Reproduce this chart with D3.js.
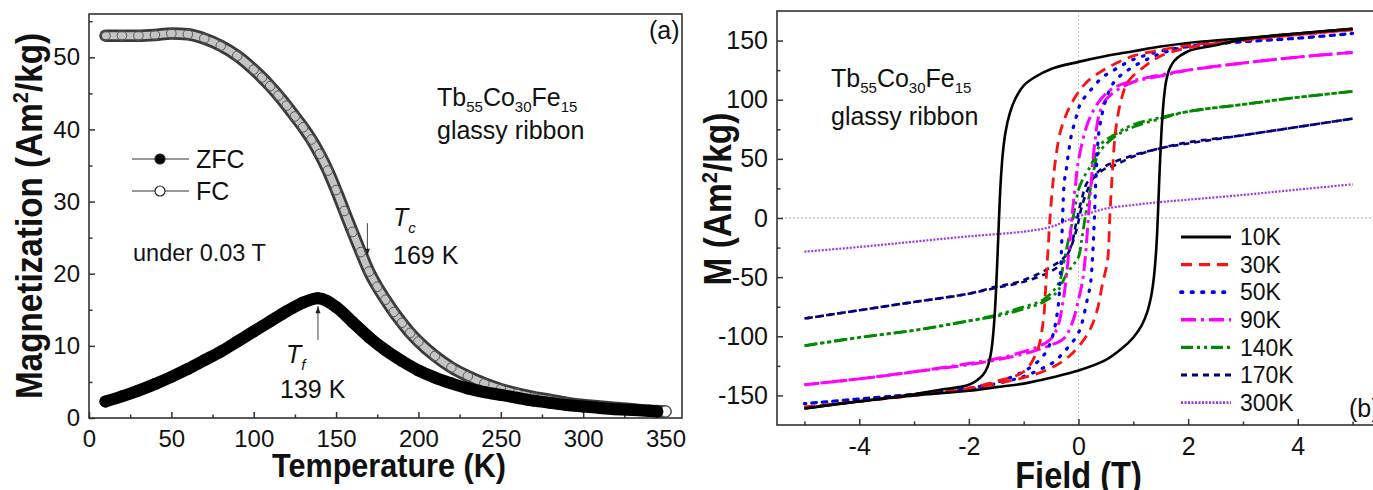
<!DOCTYPE html>
<html>
<head>
<meta charset="utf-8">
<script src="https://cdn.jsdelivr.net/npm/d3@7"></script>
<style>
  body { margin: 0; background: #fff; }
  svg { display: block; font-family: "Liberation Sans", Arial, sans-serif; }
</style>
</head>
<body>
<svg id="fig" width="1373" height="490"></svg>
<script>
// ---------- data: panel (a) ----------
const tempFC = [10,20,30,40,50,60,70,80,90,100,105,110,115,120,125,130,135,140,145,150,155,160,165,170,175,180,185,190,195,200,210,220,230,240,250,260,270,280,290,300,310,320,330,340,350];
const magFC  = [53.0,53.0,53.0,53.1,53.3,53.2,52.6,51.6,50.2,48.3,47.2,46.0,44.7,43.3,41.8,40.3,38.6,36.6,34.3,31.6,28.7,25.8,23.0,20.3,18.2,16.4,14.7,13.2,11.8,10.6,8.6,7.0,5.8,4.8,4.0,3.4,2.9,2.5,2.1,1.8,1.6,1.4,1.2,1.0,0.9];

const tempZFC = [10,20,30,40,50,60,70,80,90,100,110,120,130,139,150,160,170,180,190,200,210,220,230,240,250,260,270,280,290,300,310,320,330,340,345];
const magZFC  = [2.3,3.0,3.8,4.7,5.7,6.8,8.0,9.2,10.6,12.0,13.4,14.8,16.0,16.6,15.4,13.3,11.2,9.4,7.9,6.6,5.6,4.8,4.1,3.6,3.2,2.8,2.4,2.1,1.8,1.6,1.4,1.2,1.1,1.0,0.9];

const tempTicks = [0,50,100,150,200,250,300,350];
const magTicks = [0,10,20,30,40,50];

// ---------- data: panel (b) ----------
const loopLabels = ["10K","30K","50K","90K","140K","170K","300K"];

const hDown10 = [5,4,3,2,1.5,1,0.5,0,-0.5,-0.8,-1,-1.15,-1.25,-1.33,-1.38,-1.42,-1.45,-1.48,-1.52,-1.56,-1.6,-1.66,-1.75,-2,-2.5,-3,-4,-5];
const mDown10 = [160,156,152,148,145,141,137,132,126,119,112,101,89,73,55,30,0,-35,-75,-100,-115,-126,-133,-141,-145,-149,-155,-161];
const hUp10   = [-5,-4,-3,-2,-1.5,-1,-0.5,0,0.5,0.8,1,1.15,1.25,1.33,1.38,1.42,1.45,1.48,1.52,1.56,1.6,1.66,1.75,2,2.5,3,4,5];
const mUp10   = [-161,-155,-150,-146,-143,-140,-135,-129,-120,-110,-101,-91,-80,-65,-48,-25,4,40,78,102,116,126,133,141,146,151,156,160];

const hDown30 = [5,4,3,2,1.5,1,0.53,0.13,-0.16,-0.33,-0.42,-0.47,-0.52,-0.56,-0.6,-0.64,-0.75,-1,-1.5,-2,-3,-4,-5];
const mDown30 = [159,155,151,146,142,137,127,114,94,73,49,28,0,-30,-60,-86,-112,-130,-138,-144,-150,-155,-160];
const hUp30   = [-5,-4,-3,-2,-1.5,-1,-0.51,-0.15,0.18,0.34,0.44,0.53,0.57,0.62,0.68,0.78,0.9,1.2,1.5,2,3,4,5];
const mUp30   = [-160,-155,-150,-145,-140,-135,-127,-116,-97,-78,-55,-36,0,40,75,100,115,128,137,144,150,155,159];

const hDown50 = [5,4,3,2,1.5,1,0.68,0.44,0.22,0.04,-0.05,-0.13,-0.18,-0.22,-0.26,-0.29,-0.33,-0.38,-0.5,-0.65,-0.9,-1.2,-1.5,-2,-3,-4,-5];
const mDown50 = [156,152,149,145,141,134,126,119,108,97,84,70,56,42,30,0,-48,-78,-104,-117,-127,-134,-139,-144,-149,-153,-157];
const hUp50   = [-5,-4,-3,-2,-1.5,-1,-0.7,-0.46,-0.24,0,0.16,0.22,0.26,0.29,0.33,0.38,0.5,0.65,0.9,1.2,1.5,2,3,4,5];
const mUp50   = [-157,-153,-149,-144,-140,-134,-128,-122,-112,-97,-69,-55,-30,0,45,75,100,115,125,133,139,145,149,152,156];

const hDown90 = [5,4,3,2,1.5,1,0.64,0.4,0.22,0.13,0.04,-0.02,-0.05,-0.1,-0.14,-0.2,-0.28,-0.38,-0.5,-0.7,-1,-1.5,-2,-3,-4,-5];
const mDown90 = [140,136,131,125,121,116,110,100,86,75,58,43,30,10,-10,-40,-70,-92,-102,-108,-113,-119,-123,-130,-136,-141];
const hUp90   = [-5,-4,-3,-2,-1.5,-1,-0.6,-0.27,-0.11,0,0.07,0.12,0.18,0.24,0.3,0.38,0.5,0.7,1,1.5,2,3,4,5];
const mUp90   = [-141,-136,-130,-124,-120,-115,-109,-102,-88,-69,-54,-35,0,35,65,88,100,108,115,120,125,131,136,140];

const hDown140 = [5,4,3,2,1.5,1,0.64,0.4,0.31,0.22,0.09,0,-0.06,-0.12,-0.2,-0.27,-0.36,-0.64,-1.06,-1.5,-2,-3,-4,-5];
const mDown140 = [107,102,96,90,85,79,70,62,53,44,34,24,10,-5,-22,-38,-55,-69,-76,-82,-87,-95,-101,-108];
const hUp140   = [-5,-4,-3,-2,-1.5,-1,-0.64,-0.4,-0.3,-0.2,-0.1,0,0.06,0.12,0.2,0.27,0.36,0.64,1,1.5,2,3,4,5];
const mUp140   = [-108,-101,-95,-87,-83,-77,-71,-63,-55,-46,-40,-33,-18,0,20,38,54,68,77,84,90,96,102,107];

const hDown170 = [5,4,3,2,1.5,1,0.68,0.46,0.31,0.16,0.05,0,-0.05,-0.2,-0.6,-1.1,-1.5,-2,-3,-4,-5];
const mDown170 = [84,77,70,63,59,52,45,41,35,30,14,5,-6,-30,-44,-54,-58,-64,-71,-78,-85];
const hUp170   = [-5,-4,-3,-2,-1.5,-1,-0.5,-0.3,-0.15,-0.05,0,0.05,0.15,0.3,0.5,1,1.5,2,3,4,5];
const mUp170   = [-85,-78,-71,-64,-59,-54,-45,-38,-26,-12,-3,8,22,36,44,53,59,64,70,77,84];

const h300 = [-5,-4,-3,-2,-1,-0.5,-0.1,0.2,0.5,1,1.5,2,3,4,5];
const m300 = [-28.5,-24.5,-20,-15.5,-11.5,-7.5,0,4,8,11,13.5,15.5,19.5,24,28.5];

const fieldTicks = [-4,-2,0,2,4];
const mTicks = [-150,-100,-50,0,50,100,150];

const svg = d3.select("#fig");
const axisColor = "#333";

// draw frame + inward ticks for one panel
function drawAxes(x, y, xMajor, xMinor, yMajor, yMinor, fs, xPad) {
  const [x0, x1] = x.range();
  const [yb, yt] = y.range();

  svg.append("rect")
    .attr("x", x0).attr("y", yt)
    .attr("width", x1 - x0).attr("height", yb - yt)
    .attr("fill", "none").attr("stroke", axisColor).attr("stroke-width", 1.6);

  const gx = svg.append("g").attr("transform", `translate(0,${yb})`);
  gx.call(d3.axisBottom(x).tickValues(xMajor).tickFormat(d => String(d))
    .tickSizeInner(-6).tickSizeOuter(0).tickPadding(xPad));
  gx.append("g").call(d3.axisBottom(x).tickValues(xMinor).tickSizeInner(-3.5).tickSizeOuter(0).tickFormat(""));

  const gy = svg.append("g").attr("transform", `translate(${x0},0)`);
  gy.call(d3.axisLeft(y).tickValues(yMajor).tickFormat(d => String(d))
    .tickSizeInner(-6).tickSizeOuter(0).tickPadding(9));
  gy.append("g").call(d3.axisLeft(y).tickValues(yMinor).tickSizeInner(-3.5).tickSizeOuter(0).tickFormat(""));

  [gx, gy].forEach(g => {
    g.selectAll(".domain").remove();
    g.selectAll("line").attr("stroke", axisColor).attr("stroke-width", 1.5);
    g.selectAll("text").attr("font-size", fs).attr("fill", "#111")
      .attr("font-family", "'Liberation Sans', Arial, sans-serif");
  });
}

// chemical formula with subscripts
function formula(x, y, fs) {
  const t = svg.append("text").attr("x", x).attr("y", y).attr("font-size", fs).attr("fill", "#111");
  const parts = [["Tb", "55"], ["Co", "30"], ["Fe", "15"]];
  parts.forEach((p, i) => {
    t.append("tspan").attr("dy", i === 0 ? 0 : -6).text(p[0]);
    t.append("tspan").attr("dy", 6).attr("font-size", fs * 0.6).text(p[1]);
  });
}

// bold, slightly condensed axis title
function title(x, y, rot, fs, sx, parts) {
  const t = svg.append("text")
    .attr("transform", `translate(${x},${y}) rotate(${rot}) scale(${sx},1)`)
    .attr("text-anchor", "middle").attr("font-size", fs).attr("font-weight", "bold").attr("fill", "#111");
  t.append("tspan").text(parts[0]);
  if (parts.length > 1) {
    t.append("tspan").attr("dy", -fs * 0.38).attr("font-size", fs * 0.6).text(parts[1]);
    t.append("tspan").attr("dy", fs * 0.38).text(parts[2]);
  }
}

// ========== panel (a) ==========
const xT = d3.scaleLinear().domain([0, 360]).range([89, 682]);
const yM = d3.scaleLinear().domain([0, 56]).range([418, 14]);

drawAxes(xT, yM, tempTicks, d3.range(25, 360, 50), magTicks, d3.range(5, 56, 10), 24, 12);

const lineT = d3.line()
  .x(d => xT(d[0]))
  .y(d => yM(d[1]))
  .curve(d3.curveMonotoneX);

const fc = d3.zip(tempFC, magFC);
const zfc = d3.zip(tempZFC, magZFC);

// FC: open circles forming a grey band
svg.append("path").datum(fc)
  .attr("fill", "none").attr("stroke", "#3a3a3a").attr("stroke-width", 12.5)
  .attr("stroke-linecap", "round").attr("d", lineT);
svg.append("path").datum(fc)
  .attr("fill", "none").attr("stroke", "#c4c4c4").attr("stroke-width", 7)
  .attr("stroke-linecap", "round").attr("d", lineT);
svg.selectAll(".fcpt").data(fc).join("circle")
  .attr("cx", d => xT(d[0])).attr("cy", d => yM(d[1])).attr("r", 4.8)
  .attr("fill", "none").attr("stroke", "#555").attr("stroke-width", 1);
svg.append("circle")
  .attr("cx", xT(tempFC[tempFC.length - 1])).attr("cy", yM(magFC[magFC.length - 1])).attr("r", 5.5)
  .attr("fill", "#fff").attr("stroke", "#555").attr("stroke-width", 1.2);

// ZFC: filled circles forming a black band
svg.append("path").datum(zfc)
  .attr("fill", "none").attr("stroke", "#000").attr("stroke-width", 12)
  .attr("stroke-linecap", "round").attr("d", lineT);
svg.selectAll(".zfcpt").data(zfc).join("circle")
  .attr("cx", d => xT(d[0])).attr("cy", d => yM(d[1])).attr("r", 6)
  .attr("fill", "#000");

// legend (a)
const legA = [{ label: "ZFC", fill: "#000", y: 159 }, { label: "FC", fill: "#fff", y: 191 }];
legA.forEach(l => {
  svg.append("line").attr("x1", 132).attr("x2", 189).attr("y1", l.y).attr("y2", l.y)
    .attr("stroke", "#333").attr("stroke-width", 1.2);
  svg.append("circle").attr("cx", 160).attr("cy", l.y).attr("r", 5)
    .attr("fill", l.fill).attr("stroke", "#222").attr("stroke-width", 1.2);
  svg.append("text").attr("x", 196).attr("y", l.y).attr("dy", "0.36em")
    .attr("font-size", 25).attr("fill", "#111").text(l.label);
});

svg.append("text").attr("x", 133).attr("y", 261).attr("font-size", 23.5).attr("fill", "#111").text("under 0.03 T");
formula(437, 106, 25);
svg.append("text").attr("x", 437).attr("y", 139).attr("font-size", 25).attr("fill", "#111").text("glassy ribbon");
svg.append("text").attr("x", 649).attr("y", 39).attr("font-size", 25).attr("fill", "#111").text("(a)");

// T_c and T_f annotations
function arrow(x, yFrom, yTo) {
  svg.append("line").attr("x1", x).attr("x2", x).attr("y1", yFrom).attr("y2", yTo)
    .attr("stroke", "#444").attr("stroke-width", 1);
  const s = yTo > yFrom ? -1 : 1;
  svg.append("path")
    .attr("d", `M${x},${yTo} L${x - 2.5},${yTo + s * 7} L${x + 2.5},${yTo + s * 7} Z`)
    .attr("fill", "#222");
}
arrow(xT(169), yM(27), yM(22.5));
arrow(xT(139), yM(10.8), yM(15.5));

function tLabel(x, y, sub) {
  const t = svg.append("text").attr("x", x).attr("y", y).attr("font-size", 25)
    .attr("font-style", "italic").attr("fill", "#111");
  t.append("tspan").text("T");
  t.append("tspan").attr("dy", 7).attr("font-size", 15).text(sub);
}
tLabel(393, 226, "c");
svg.append("text").attr("x", 393).attr("y", 264).attr("font-size", 25).attr("fill", "#111").text("169 K");
tLabel(286, 363, "f");
svg.append("text").attr("x", 280).attr("y", 398).attr("font-size", 25).attr("fill", "#111").text("139 K");

// axis titles (a)
title(42, (418 + 14) / 2, -90, 37, 0.9, ["Magnetization (Am", "2", "/kg)"]);
title(389, 477, 0, 34, 0.9, ["Temperature (K)"]);

// ========== panel (b) ==========
const xH = d3.scaleLinear().domain([-5.5, 5.5]).range([777, 1380]);
const yB = d3.scaleLinear().domain([-175, 175]).range([425, 11]);

// zero reference lines
svg.append("line").attr("x1", 777).attr("x2", 1380).attr("y1", yB(0)).attr("y2", yB(0))
  .attr("stroke", "#aaa").attr("stroke-width", 1).attr("stroke-dasharray", "2,2");
svg.append("line").attr("x1", xH(0)).attr("x2", xH(0)).attr("y1", 11).attr("y2", 425)
  .attr("stroke", "#ccc").attr("stroke-width", 1).attr("stroke-dasharray", "2,2");

drawAxes(xH, yB, fieldTicks, [-5, -3, -1, 1, 3, 5], mTicks, [-125, -75, -25, 25, 75, 125], 25, 12);

const styles = [
  { color: "#000",    width: 2.6, dash: null },
  { color: "#ff1010", width: 2.8, dash: "11,7" },
  { color: "#0000ee", width: 3.2, dash: "1.5,9", cap: "round" },
  { color: "#ff00ff", width: 3.0, dash: "15,5,3,5" },
  { color: "#008a00", width: 2.8, dash: "12,4,3,4,3,4" },
  { color: "#000080", width: 2.6, dash: "6,5" },
  { color: "#9933ff", width: 2.2, dash: "2,1.5" }
];

const loops = [
  [[hDown10, mDown10], [hUp10, mUp10]],
  [[hDown30, mDown30], [hUp30, mUp30]],
  [[hDown50, mDown50], [hUp50, mUp50]],
  [[hDown90, mDown90], [hUp90, mUp90]],
  [[hDown140, mDown140], [hUp140, mUp140]],
  [[hDown170, mDown170], [hUp170, mUp170]],
  [[h300, m300]]
];

const lineH = d3.line()
  .x(d => xH(d[0]))
  .y(d => yB(d[1]))
  .curve(d3.curveCatmullRom.alpha(0.5));

// draw from the highest temperature so 10K lies on top
for (let i = loops.length - 1; i >= 0; i--) {
  const st = styles[i];
  loops[i].forEach(branch => {
    svg.append("path").datum(d3.zip(branch[0], branch[1]))
      .attr("fill", "none")
      .attr("stroke", st.color)
      .attr("stroke-width", st.width)
      .attr("stroke-dasharray", st.dash)
      .attr("stroke-linecap", st.cap || "butt")
      .attr("d", lineH);
  });
}

// legend (b)
loopLabels.forEach((lab, i) => {
  const st = styles[i];
  const y = 237 + i * 27.6;
  svg.append("line").attr("x1", 1181).attr("x2", 1231).attr("y1", y).attr("y2", y)
    .attr("stroke", st.color).attr("stroke-width", st.width + 0.6)
    .attr("stroke-dasharray", st.dash).attr("stroke-linecap", st.cap || "butt");
  svg.append("text").attr("x", 1240).attr("y", y).attr("dy", "0.36em")
    .attr("font-size", 23).attr("fill", "#111").text(lab);
});

formula(831, 87, 25);
svg.append("text").attr("x", 831).attr("y", 125).attr("font-size", 25).attr("fill", "#111").text("glassy ribbon");
svg.append("text").attr("x", 1349).attr("y", 417).attr("font-size", 25).attr("fill", "#111").text("(b)");

// axis titles (b)
title(731, 199, -90, 38, 0.88, ["M (Am", "2", "/kg)"]);
title(xH(0), 488, 0, 37, 0.88, ["Field (T)"]);
</script>
</body>
</html>
